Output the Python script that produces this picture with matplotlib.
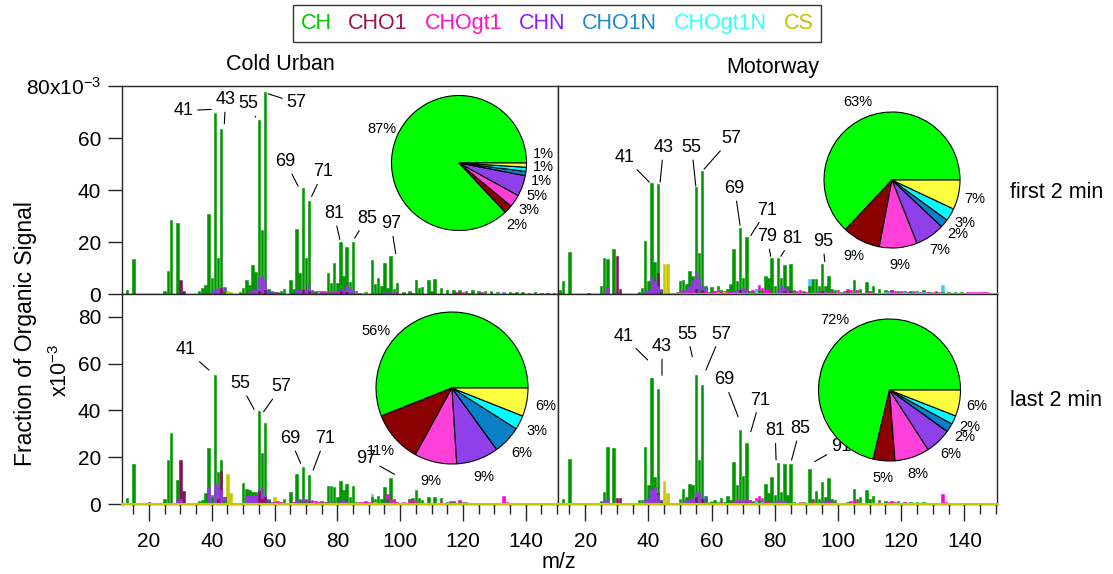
"""
Unit-mass organic spectra, Cold Urban vs Motorway, first and last 2 min,
with the family split of the organic signal as inset pies.
"""
import numpy as np
import matplotlib
matplotlib.use("Agg")
import matplotlib.pyplot as plt
from matplotlib.lines import Line2D
from matplotlib.ticker import MultipleLocator

plt.rcParams["font.family"] = ["Liberation Sans", "DejaVu Sans"]
plt.rcParams["mathtext.fontset"] = "custom"
plt.rcParams["mathtext.rm"] = "Liberation Sans"
plt.rcParams["mathtext.default"] = "regular"

FAMILIES = ["CH", "CHO1", "CHOgt1", "CHN", "CHO1N", "CHOgt1N", "CS"]

# ---- Cold Urban, first 2 min (fraction x1e-3, keyed by m/z) ----
CU1_CH = {13: 1.4, 15: 13.4, 25: 1.2, 26: 8.7, 27: 28.5, 29: 27.5,
          36: 1.0, 37: 2.3, 38: 3.6, 39: 30.8, 40: 6.1, 41: 69.8, 42: 13.8, 43: 63.6, 44: 1.0,
          49: 0.8, 50: 2.5, 51: 5.5, 52: 3.5, 53: 11.0, 54: 8.5, 55: 66.8, 56: 24.7, 57: 77.7, 58: 1.5,
          60: 0.8, 61: 0.6, 62: 1.0, 63: 1.8, 65: 5.2, 66: 2.0, 67: 25.0, 68: 8.0, 69: 40.6,
          70: 13.8, 71: 35.8, 72: 1.5, 73: 0.8, 75: 1.0, 76: 1.0, 77: 8.1, 78: 4.2, 79: 11.9,
          80: 4.2, 81: 20.0, 82: 6.8, 83: 17.9, 84: 4.6, 85: 20.0, 86: 1.0, 87: 0.5, 89: 0.6,
          91: 12.9, 92: 4.0, 93: 6.0, 94: 3.0, 95: 11.9, 96: 2.5, 97: 14.8, 98: 2.0, 99: 4.2, 101: 0.8,
          103: 1.2, 105: 5.2, 106: 2.2, 107: 2.8, 109: 5.3, 110: 1.0, 111: 5.8, 113: 2.2, 115: 1.5,
          117: 1.6, 119: 1.5, 121: 1.2, 123: 1.5, 125: 1.2, 127: 1.0, 129: 1.0, 131: 0.8, 133: 0.9,
          135: 0.7, 137: 0.6, 139: 0.8, 141: 0.5, 143: 0.6, 145: 0.4, 147: 0.5, 149: 0.4}
CU1_CHO1 = {30: 5.5, 31: 1.0, 43: 2.2, 55: 1.2, 57: 1.5, 69: 1.6, 71: 1.0, 81: 1.0, 83: 0.8}
CU1_CHOGT1 = {60: 0.6, 62: 0.5, 72: 1.0, 73: 1.1, 74: 1.3, 75: 0.8, 76: 0.6, 78: 0.8, 80: 0.6,
              89: 0.5, 92: 0.5, 96: 0.5, 99: 0.6, 104: 0.4, 118: 0.8, 120: 0.9, 122: 0.5,
              126: 0.6, 133: 0.6, 136: 0.5}
CU1_CHN = {39: 0.5, 40: 1.0, 41: 1.8, 42: 2.2, 43: 2.5, 44: 1.5, 52: 0.8, 53: 1.5, 54: 2.0,
           55: 6.0, 56: 7.0, 57: 5.5, 58: 1.0, 67: 1.5, 68: 1.5, 69: 2.0, 70: 2.0, 71: 3.5,
           72: 1.0, 79: 1.0, 80: 1.0, 81: 1.8, 82: 1.5, 83: 3.5, 84: 2.0, 85: 1.5, 95: 0.6, 97: 0.8}
CU1_CHO1N = {44: 2.7, 58: 2.0, 59: 1.0}
CU1_CHOGT1N = {74: 0.9, 131: 0.5, 133: 0.6}
CU1_CS = {45: 1.0, 46: 0.6, 86: 0.3, 89: 0.3}

# ---- Motorway, first 2 min ----
MW1_CH = {12: 1.5, 13: 4.9, 15: 16.0, 25: 2.9, 26: 13.7, 27: 13.4, 29: 17.2,
          37: 0.8, 38: 2.5, 39: 20.5, 40: 5.0, 41: 42.6, 42: 12.5, 43: 42.2, 44: 1.0,
          49: 0.8, 50: 4.9, 51: 5.5, 52: 4.0, 53: 8.7, 54: 6.8, 55: 41.0, 56: 15.7, 57: 47.3, 58: 3.0,
          59: 0.8, 60: 2.6, 61: 1.0, 62: 3.2, 63: 1.5, 64: 0.8, 65: 2.0, 66: 4.0, 67: 17.3, 68: 5.0,
          69: 25.5, 70: 6.0, 71: 22.0, 72: 1.2, 73: 0.8, 75: 1.5, 76: 1.0, 77: 6.8, 78: 6.0,
          79: 13.8, 80: 3.0, 81: 13.8, 82: 6.0, 83: 11.2, 84: 3.0, 85: 11.5, 86: 1.0, 87: 0.5, 89: 0.8,
          91: 3.0, 92: 5.8, 93: 5.8, 94: 3.0, 95: 11.5, 96: 3.0, 97: 6.8, 98: 2.0, 99: 1.5,
          101: 0.8, 103: 1.0, 105: 5.3, 106: 1.5, 107: 2.0, 109: 4.5, 110: 1.0, 111: 2.9, 113: 1.8,
          115: 1.5, 117: 1.4, 119: 1.2, 121: 1.3, 123: 1.2, 125: 1.0, 127: 1.4, 129: 0.8, 131: 1.0,
          133: 0.8, 135: 0.7, 137: 0.6, 139: 0.7, 141: 0.5, 143: 0.5, 145: 0.4, 147: 0.4}
MW1_CHO1 = {21: 0.5, 30: 14.8, 31: 1.8, 43: 8.0, 44: 1.5, 55: 2.0, 57: 1.5, 69: 1.5,
            71: 1.5, 83: 1.0, 85: 1.0, 95: 1.0}
MW1_CHOGT1 = {50: 0.8, 52: 0.8, 54: 1.0, 58: 0.8, 60: 1.2, 61: 1.0, 62: 1.5, 63: 1.2, 64: 1.0,
              65: 1.0, 66: 1.2, 73: 1.5, 74: 2.0, 75: 3.5, 76: 2.5, 77: 2.0, 78: 1.5, 86: 1.5,
              87: 1.2, 88: 1.5, 89: 1.0, 90: 0.8, 94: 1.0, 98: 1.2, 100: 1.5, 102: 1.2, 103: 1.8,
              104: 1.6, 106: 1.5, 110: 1.0, 116: 1.2, 117: 1.4, 118: 1.0, 120: 1.2, 122: 0.8,
              124: 1.0, 126: 0.8, 128: 0.7, 130: 0.6, 132: 0.7, 141: 0.9, 142: 0.8, 143: 0.9,
              144: 0.8, 145: 0.9, 146: 0.8, 147: 0.7}
MW1_CHN = {26: 0.5, 27: 2.6, 39: 1.0, 40: 1.5, 41: 6.0, 42: 5.0, 43: 3.0, 44: 1.5, 50: 1.0,
           51: 1.5, 52: 2.0, 53: 3.0, 54: 5.5, 55: 8.7, 56: 6.0, 57: 3.0, 58: 2.0, 67: 1.0,
           68: 1.5, 69: 2.0, 70: 2.5, 71: 1.5, 81: 1.5, 82: 3.0, 83: 2.5, 84: 1.5, 94: 1.0, 96: 1.0}
MW1_CHO1N = {44: 2.0, 56: 2.0, 58: 2.5}
MW1_CHOGT1N = {74: 1.8, 91: 5.8, 115: 0.8, 116: 0.8, 121: 0.6, 125: 0.8, 127: 0.7, 133: 3.6}
MW1_CS = {45: 11.5, 46: 11.5, 62: 0.8, 64: 0.6, 78: 0.5, 87: 0.4}

# ---- Cold Urban, last 2 min ----
CU2_CH = {13: 2.6, 15: 17.1, 25: 2.2, 26: 18.6, 27: 30.3, 29: 10.1,
          36: 1.4, 37: 1.8, 38: 4.5, 39: 23.9, 40: 3.0, 41: 55.0, 42: 13.8, 43: 19.0, 44: 1.0,
          50: 9.0, 51: 6.5, 52: 5.8, 53: 5.2, 54: 5.0, 55: 39.8, 56: 21.6, 57: 34.7, 58: 1.5,
          62: 1.0, 63: 2.0, 64: 0.6, 65: 5.3, 66: 1.0, 67: 12.8, 68: 1.7, 69: 15.9, 70: 1.7,
          71: 12.2, 72: 1.0, 73: 0.6, 75: 1.2, 76: 1.0, 77: 7.5, 78: 7.7, 79: 7.4, 80: 3.0,
          81: 10.0, 82: 5.8, 83: 8.5, 84: 3.0, 85: 7.5, 86: 1.0, 89: 0.6,
          91: 3.0, 92: 2.0, 93: 3.6, 94: 2.0, 95: 7.4, 96: 2.0, 97: 11.0, 98: 2.0, 99: 1.0,
          103: 2.0, 104: 2.5, 105: 6.0, 106: 2.5, 107: 1.7, 109: 2.8, 111: 2.8, 113: 2.4,
          115: 1.0, 117: 0.8, 119: 0.8, 121: 0.8, 123: 0.6, 125: 0.6, 127: 0.6, 129: 0.5,
          131: 0.5, 135: 0.5, 137: 0.4, 141: 0.4, 143: 0.4}
CU2_CHO1 = {20: 0.7, 29: 1.5, 30: 18.6, 31: 5.5, 42: 2.0, 43: 14.2, 44: 3.0, 55: 5.5, 56: 2.0,
            57: 3.0, 58: 1.0, 69: 1.0, 71: 1.0, 83: 0.6}
CU2_CHOGT1 = {60: 1.0, 61: 1.2, 62: 0.8, 66: 1.0, 72: 1.5, 73: 1.2, 74: 1.0, 76: 0.8, 87: 0.8,
              88: 1.0, 89: 1.2, 90: 1.0, 96: 4.3, 97: 1.5, 98: 1.5, 99: 0.8, 101: 1.0, 103: 1.2,
              104: 1.5, 105: 1.3, 113: 1.0, 116: 1.2, 117: 1.4, 119: 1.5, 120: 1.0, 124: 0.6,
              127: 0.5, 133: 3.4, 134: 0.8, 137: 0.6, 141: 0.5, 145: 0.5}
CU2_CHN = {27: 1.0, 29: 1.5, 30: 2.0, 39: 7.0, 40: 4.0, 41: 9.0, 42: 8.0, 43: 6.0, 44: 3.0,
           51: 3.5, 52: 4.0, 53: 4.0, 54: 4.0, 55: 6.0, 56: 7.1, 57: 4.0, 58: 2.0, 67: 1.5,
           68: 2.0, 69: 2.5, 70: 2.0, 71: 2.0, 72: 1.0, 77: 1.0, 79: 1.0, 81: 1.0, 82: 1.5,
           83: 1.0, 91: 0.8, 93: 0.6, 95: 0.8, 105: 0.5}
CU2_CHO1N = {44: 1.5, 58: 1.5, 59: 0.8}
CU2_CHOGT1N = {64: 0.4, 91: 4.3, 92: 1.0, 130: 0.5}
CU2_CS = {45: 13.0, 46: 4.5, 60: 3.2, 61: 0.6, 92: 1.0, 101: 0.5}

# ---- Motorway, last 2 min ----
MW2_CH = {12: 0.5, 13: 2.1, 15: 19.1, 25: 1.3, 26: 5.3, 27: 24.2, 29: 23.9,
          37: 1.7, 38: 1.8, 39: 24.2, 40: 8.0, 41: 53.7, 42: 11.4, 43: 49.0, 44: 1.0,
          50: 2.0, 51: 6.3, 52: 3.0, 53: 8.5, 54: 8.0, 55: 55.0, 56: 18.8, 57: 50.8, 58: 2.0,
          60: 0.8, 61: 1.7, 62: 0.8, 63: 2.6, 64: 0.8, 65: 3.6, 66: 1.5, 67: 18.0, 68: 8.0,
          69: 31.6, 70: 12.0, 71: 26.0, 72: 1.5, 73: 0.8, 75: 1.5, 76: 1.0, 77: 8.5, 78: 4.5,
          79: 11.7, 80: 4.0, 81: 17.4, 82: 5.0, 83: 17.0, 84: 4.0, 85: 17.0, 86: 1.0, 87: 0.5,
          89: 0.8, 91: 14.8, 92: 2.0, 93: 5.5, 94: 2.0, 95: 9.4, 96: 3.0, 97: 10.9, 98: 2.0,
          99: 1.5, 103: 0.8, 105: 6.5, 106: 2.0, 107: 3.0, 109: 5.8, 110: 2.0, 111: 3.5,
          113: 1.5, 115: 1.2, 117: 1.3, 119: 1.3, 121: 1.0, 123: 0.9, 125: 0.8, 127: 0.7,
          129: 0.6, 131: 0.5, 137: 0.4, 139: 0.4, 143: 0.3}
MW2_CHO1 = {27: 0.5, 30: 2.5, 31: 2.5, 43: 4.6, 44: 1.0, 55: 3.0, 57: 2.0, 69: 1.0, 71: 1.0}
MW2_CHOGT1 = {45: 0.5, 61: 0.6, 63: 1.0, 67: 1.0, 68: 1.7, 72: 1.0, 73: 1.2, 74: 2.5, 75: 3.6,
              76: 2.5, 77: 1.2, 78: 1.0, 88: 0.8, 90: 0.6, 92: 1.0, 97: 1.2, 98: 1.0, 104: 1.2,
              105: 1.5, 106: 1.0, 113: 0.8, 116: 0.8, 117: 1.0, 118: 1.0, 120: 0.6, 121: 0.8,
              124: 0.6, 127: 0.5, 133: 4.3, 134: 0.8, 139: 0.6, 140: 0.5}
MW2_CHN = {26: 1.5, 27: 1.5, 39: 2.0, 40: 2.5, 41: 6.5, 42: 7.1, 43: 4.0, 44: 1.5, 51: 1.0,
           52: 1.5, 53: 2.0, 54: 2.5, 55: 5.3, 56: 5.3, 57: 3.0, 58: 1.0, 68: 1.0, 69: 2.2,
           70: 2.2, 71: 2.0, 72: 1.5, 80: 1.0, 81: 1.5, 82: 1.2, 83: 1.2, 95: 1.2, 96: 1.2,
           97: 1.5, 98: 1.0}
MW2_CHO1N = {44: 1.5, 58: 3.3, 59: 1.0}
MW2_CHOGT1N = {74: 1.2, 76: 0.8, 93: 0.5}
MW2_CS = {45: 9.9, 46: 4.5, 59: 1.0, 60: 1.2, 89: 0.4}

# family shares of the organic signal (%), same order as FAMILIES
PIE_CU1 = [87, 2, 3, 5, 1, 1, 1]
PIE_MW1 = [63, 9, 9, 7, 2, 3, 7]
PIE_CU2 = [56, 11, 9, 9, 6, 3, 6]
PIE_MW2 = [72, 5, 8, 6, 2, 2, 6]

BAR_COLORS = {"CH": "#009600", "CHO1": "#84105c", "CHOgt1": "#ff00d8", "CHN": "#9535e8",
              "CHO1N": "#2f6e9a", "CHOgt1N": "#4dc3ff", "CS": "#c8c800"}
PIE_COLORS = ["#00ff00", "#8b0000", "#ff40d8", "#9040e8", "#0a80c8", "#00ffff", "#ffff40"]
LEGEND_COLORS = ["#00c800", "#a0104f", "#ff10c8", "#8c1aff", "#1c8ad0", "#33ffff", "#c8c000"]

W, H = 1113, 574
XLIM = (11.4, 150.3)

fig = plt.figure(figsize=(W / 100, H / 100), dpi=100)


def rect(x0, y0, x1, y1):
    """pixel box (origin top-left) -> figure-fraction rect"""
    return [x0 / W, 1 - y1 / H, (x1 - x0) / W, (y1 - y0) / H]


def draw_spectrum(ax, series):
    for fam, d in zip(FAMILIES, series):
        mz = list(d.keys())
        val = list(d.values())
        bars = ax.bar(mz, val, width=0.8, color=BAR_COLORS[fam],
                      edgecolor=BAR_COLORS[fam], linewidth=0.4)
        # taller sticks go behind so the small families stay visible
        for b, v in zip(bars, val):
            b.set_zorder(2 - v / 100)


def label_peaks(ax, peaks, series_ch):
    for mz, (tx, ty, ex, ey) in peaks.items():
        if mz not in series_ch:
            continue
        ax.annotate(str(mz), xy=(ex, ey), xytext=(tx, ty), ha="center", va="center",
                    fontsize=13, zorder=4,
                    arrowprops=dict(arrowstyle="-", lw=0.8, color="black",
                                    shrinkA=1, shrinkB=0))


def draw_pie(cx, cy, r, values, overrides):
    pad = 1.05
    pax = fig.add_axes(rect(cx - r * pad, cy - r * pad, cx + r * pad, cy + r * pad))
    pax.pie(values, colors=PIE_COLORS, startangle=0, counterclock=True,
            wedgeprops=dict(edgecolor="black", linewidth=0.8))
    pax.set_xlim(-pad, pad)
    pax.set_ylim(-pad, pad)
    pax.axis("off")
    frac = np.array(values, dtype=float) / sum(values)
    edges = np.concatenate([[0], np.cumsum(frac)]) * 360
    for i, v in enumerate(values):
        ang = overrides.get(FAMILIES[i], 0.5 * (edges[i] + edges[i + 1]))
        t = np.deg2rad(ang)
        pax.text(1.25 * np.cos(t), 1.25 * np.sin(t), f"{v}%", ha="center", va="center",
                 fontsize=10.5)


# peak label layout: m/z -> (text x, text y, leader end x, leader end y)
PEAKS_CU1 = {41: (31.0, 70.5, 39.8, 71.0), 43: (44.4, 74.8, 44.0, 65.5),
             55: (51.6, 73.2, 54.0, 68.0), 57: (66.9, 73.5, 58.0, 77.0),
             69: (63.5, 50.9, 67.5, 41.5), 71: (75.5, 47.0, 71.8, 37.5),
             81: (78.9, 31.0, 80.8, 21.0), 85: (89.5, 29.1, 85.5, 21.5),
             97: (97.1, 27.0, 98.6, 15.5)}
PEAKS_MW1 = {41: (32.6, 52.5, 40.3, 43.0), 43: (44.8, 56.4, 43.7, 43.0),
             55: (53.7, 56.4, 55.0, 41.5), 57: (66.2, 59.8, 57.6, 48.0),
             69: (67.3, 40.6, 69.0, 26.5), 71: (77.5, 32.3, 72.4, 22.5),
             79: (77.5, 22.1, 78.7, 14.5), 81: (85.5, 21.5, 81.9, 14.5),
             95: (95.2, 20.2, 95.8, 12.5)}
PEAKS_CU2 = {41: (31.7, 66.0, 39.1, 57.2), 55: (49.0, 51.5, 53.5, 40.4),
             57: (62.2, 50.1, 56.5, 39.4), 69: (64.9, 28.0, 68.3, 17.4),
             71: (76.1, 28.0, 72.3, 14.5), 97: (89.1, 19.5, 98.2, 12.7)}
PEAKS_MW2 = {41: (32.1, 71.7, 39.8, 61.5), 43: (44.3, 67.2, 44.3, 55.0),
             55: (52.3, 72.6, 53.9, 62.9), 57: (63.0, 72.6, 58.2, 57.2),
             69: (63.9, 53.0, 68.4, 37.3), 71: (75.3, 44.4, 72.4, 30.9),
             81: (80.1, 31.3, 80.4, 18.8), 85: (88.0, 32.3, 85.3, 18.8),
             91: (100.9, 24.5, 92.6, 18.1)}

panels = [
    dict(series=[CU1_CH, CU1_CHO1, CU1_CHOGT1, CU1_CHN, CU1_CHO1N, CU1_CHOGT1N, CU1_CS],
         pie=PIE_CU1, peaks=PEAKS_CU1, row=0, col=0, pie_at=(459, 163, 67.5),
         pie_angles={"CS": 6, "CHOgt1N": -3, "CHO1N": -12, "CHN": -23, "CHOgt1": -34,
                     "CHO1": -47}),
    dict(series=[MW1_CH, MW1_CHO1, MW1_CHOGT1, MW1_CHN, MW1_CHO1N, MW1_CHOGT1N, MW1_CS],
         pie=PIE_MW1, peaks=PEAKS_MW1, row=0, col=1, pie_at=(892, 180, 68),
         pie_angles={}),
    dict(series=[CU2_CH, CU2_CHO1, CU2_CHOGT1, CU2_CHN, CU2_CHO1N, CU2_CHOGT1N, CU2_CS],
         pie=PIE_CU2, peaks=PEAKS_CU2, row=1, col=0, pie_at=(452, 388, 76),
         pie_angles={"CH": 143}),
    dict(series=[MW2_CH, MW2_CHO1, MW2_CHOGT1, MW2_CHN, MW2_CHO1N, MW2_CHOGT1N, MW2_CS],
         pie=PIE_MW2, peaks=PEAKS_MW2, row=1, col=1, pie_at=(889.5, 390, 71),
         pie_angles={}),
]

COL_X = [(122, 558), (558, 997)]
ROW_Y = [(86, 294), (294, 504)]
ROW_YLIM = [(0, 80), (0, 89.7)]
BASELINE_FROM = {(0, 1): 47, (1, 0): XLIM[0], (1, 1): XLIM[0]}

for p in panels:
    r, c = p["row"], p["col"]
    ax = fig.add_axes(rect(COL_X[c][0], ROW_Y[r][0], COL_X[c][1], ROW_Y[r][1]))
    draw_spectrum(ax, p["series"])
    ax.set_xlim(XLIM)
    ax.set_ylim(ROW_YLIM[r])
    for s in ax.spines.values():
        s.set_linewidth(1.0)
        s.set_color("#262626")
    ax.tick_params(which="both", direction="out", color="#262626", width=1, labelsize=15)

    if r == 0:
        ax.tick_params(axis="x", which="both", bottom=False, labelbottom=False)
    else:
        ax.xaxis.set_major_locator(MultipleLocator(20))
        ax.xaxis.set_minor_locator(MultipleLocator(5))
        ax.tick_params(axis="x", which="major", length=12, pad=8)
        ax.tick_params(axis="x", which="minor", length=7)

    if c == 0:
        ax.set_yticks([0, 20, 40, 60, 80])
        ax.tick_params(axis="y", length=10, pad=5)
        if r == 0:
            ax.set_yticklabels(["0", "20", "40", "60", r"80x10$^{-3}$"])
    else:
        ax.tick_params(axis="y", left=False, labelleft=False)

    if (r, c) in BASELINE_FROM:
        ax.plot([BASELINE_FROM[(r, c)], XLIM[1]], [0, 0], color=BAR_COLORS["CS"], lw=1.5,
                zorder=2.6, clip_on=False)

    label_peaks(ax, p["peaks"], p["series"][0])
    cx, cy, rad = p["pie_at"]
    draw_pie(cx, cy, rad, p["pie"], p["pie_angles"])

# titles, row tags, axis labels
fig.text(280 / W, 1 - 64 / H, "Cold Urban", ha="center", va="center", fontsize=15.5)
fig.text(773 / W, 1 - 68 / H, "Motorway", ha="center", va="center", fontsize=15.5)
fig.text(1010 / W, 1 - 193 / H, "first 2 min", ha="left", va="center", fontsize=15.5)
fig.text(1010 / W, 1 - 400 / H, "last 2 min", ha="left", va="center", fontsize=15.5)
fig.text(559 / W, 1 - 563 / H, "m/z", ha="center", va="center", fontsize=15.5)
fig.text(26 / W, 1 - 334 / H, "Fraction of Organic Signal", rotation=90,
         ha="center", va="center", fontsize=16.5)
fig.text(61 / W, 1 - 370 / H, r"x10$^{-3}$", rotation=90, ha="center", va="center",
         fontsize=15.5)

handles = [Line2D([], [], linestyle="none") for _ in FAMILIES]
leg = fig.legend(handles, FAMILIES, loc="center", bbox_to_anchor=(557 / W, 1 - 23.5 / H),
                 ncol=7, frameon=True, fancybox=False, edgecolor="black",
                 handlelength=0, handletextpad=0, columnspacing=0.78,
                 fontsize=15.5, borderpad=0.35)
leg.get_frame().set_linewidth(1.0)
for txt, col in zip(leg.get_texts(), LEGEND_COLORS):
    txt.set_color(col)

fig.savefig("out.png", dpi=100)
